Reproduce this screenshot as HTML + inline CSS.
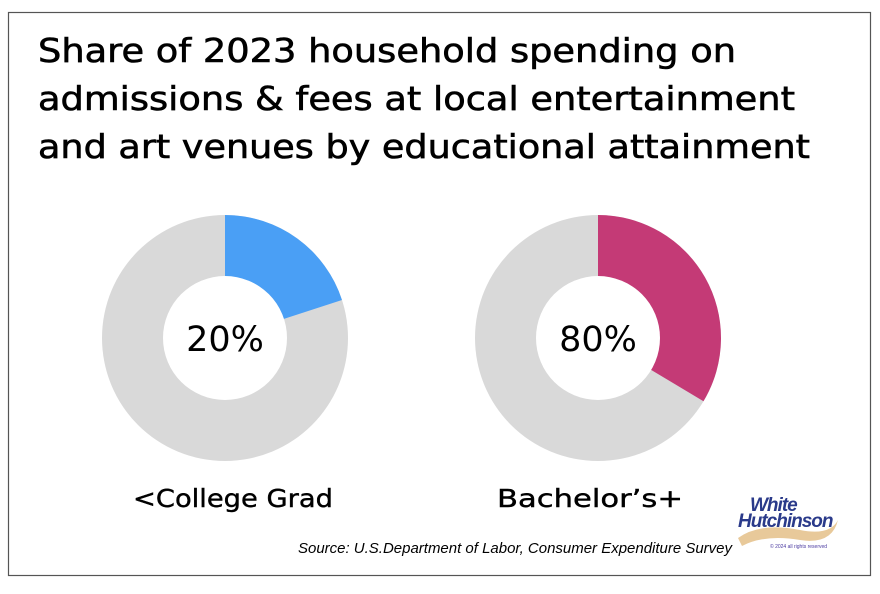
<!DOCTYPE html>
<html><head><meta charset="utf-8"><style>
html,body{margin:0;padding:0;background:#fff;}
svg{display:block;}
</style></head><body>
<svg id="chart" width="880" height="594" viewBox="0 0 880 594" xmlns="http://www.w3.org/2000/svg">
<rect x="8.5" y="12.5" width="862" height="563" fill="#fff" stroke="#555" stroke-width="1.2"/>
<g font-family="'DejaVu Sans', sans-serif" font-size="33" fill="#000" stroke="#000" stroke-width="0.6">
<text x="38" y="62" textLength="698" lengthAdjust="spacingAndGlyphs">Share of 2023 household spending on</text>
<text x="38" y="110" textLength="757" lengthAdjust="spacingAndGlyphs">admissions &amp; fees at local entertainment</text>
<text x="38" y="158" textLength="772" lengthAdjust="spacingAndGlyphs">and art venues by educational attainment</text>
</g>
<g id="donuts"></g>
<text x="298" y="553" textLength="434" lengthAdjust="spacingAndGlyphs" font-family="'Liberation Sans', sans-serif" font-style="italic" font-size="14.5" fill="#000">Source: U.S.Department of Labor, Consumer Expenditure Survey</text>
<g>
<path d="M738 538 Q760 522 800 530 Q830 536 838 520 Q832 545 800 540 Q765 534 742 546 Z" fill="#e8c99a"/>
<text x="750" y="511" font-family="'Liberation Sans', sans-serif" font-style="italic" font-weight="bold" font-size="19" fill="#2a3a8a" letter-spacing="-1">White</text>
<text x="738" y="527" font-family="'Liberation Sans', sans-serif" font-style="italic" font-weight="bold" font-size="19" fill="#2a3a8a" letter-spacing="-1">Hutchinson</text>
<text x="770" y="548" font-family="'Liberation Sans', sans-serif" font-size="5" fill="#4a3aa0">© 2024 all rights reserved</text>
</g>
</svg>
<script>
const categories = ["\u003cCollege Grad", "Bachelor\u2019s+"];
const drawnShare = [20, 33.6];
const centerLabels = ["20%", "80%"];
const colors = ["#4a9ff5", "#c43a76"];
const ns = "http://www.w3.org/2000/svg";
const g = document.getElementById("donuts");
const cx0 = 225, dx = 373, cy = 338, R = 123, r = 62;
const labelX = [133, 497], labelW = [200, 186];
function pt(cx, rad, frac){const a = frac*2*Math.PI; return [cx + rad*Math.sin(a), cy - rad*Math.cos(a)];}
categories.forEach((cat, i) => {
  const cx = cx0 + i*dx;
  const bg = document.createElementNS(ns, "circle");
  bg.setAttribute("cx", cx); bg.setAttribute("cy", cy); bg.setAttribute("r", R);
  bg.setAttribute("fill", "#d9d9d9");
  
  
  g.appendChild(bg);
  const f = Math.min(drawnShare[i], 99.99)/100;
  const [x1,y1] = pt(cx, R, 0), [x2,y2] = pt(cx, R, f);
  const large = f > 0.5 ? 1 : 0;
  const p = document.createElementNS(ns, "path");
  p.setAttribute("d", `M${cx},${cy} L${x1},${y1} A${R},${R} 0 ${large} 1 ${x2},${y2} Z`);
  p.setAttribute("fill", colors[i]);
  
  
  g.appendChild(p);
  const hole = document.createElementNS(ns, "circle");
  hole.setAttribute("cx", cx); hole.setAttribute("cy", cy); hole.setAttribute("r", r);
  hole.setAttribute("fill", "#fff");
  
  
  g.appendChild(hole);
  const t = document.createElementNS(ns, "text");
  t.setAttribute("x", cx); t.setAttribute("y", cy + 13);
  t.setAttribute("text-anchor", "middle");
  t.setAttribute("font-family", "'DejaVu Sans', sans-serif");
  t.setAttribute("font-size", "35");
  t.textContent = centerLabels[i];
  
  
  g.appendChild(t);
  const c = document.createElementNS(ns, "text");
  c.setAttribute("x", labelX[i]); c.setAttribute("y", 507);
  c.setAttribute("textLength", labelW[i]);
  c.setAttribute("lengthAdjust", "spacingAndGlyphs");
  c.setAttribute("font-family", "'DejaVu Sans', sans-serif");
  c.setAttribute("font-size", "25");
  c.setAttribute("stroke", "#000");
  c.setAttribute("stroke-width", "0.4");
  c.textContent = cat;
  
  
  g.appendChild(c);
});
</script>
</body></html>
